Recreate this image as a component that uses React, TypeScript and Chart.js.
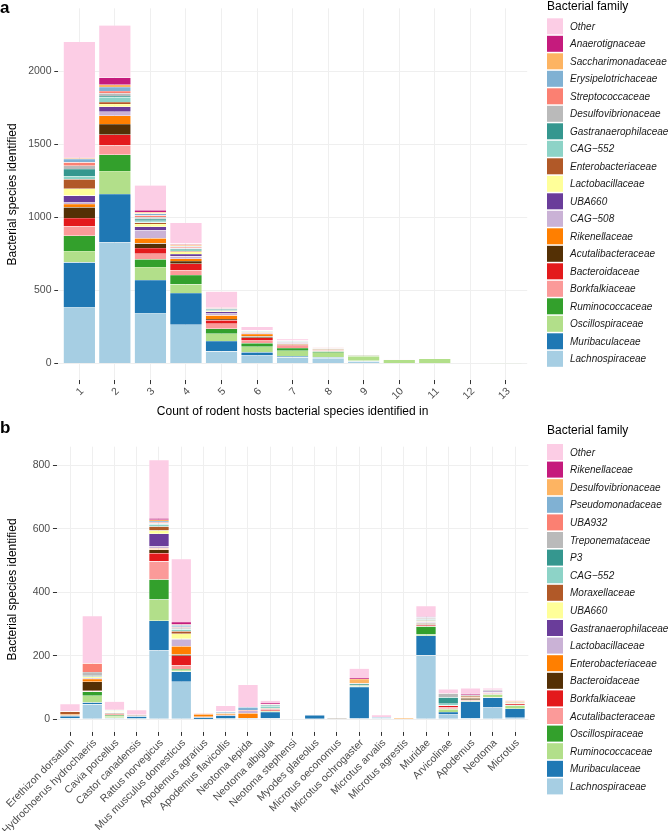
import React, { useEffect, useRef } from 'react';
import { Chart, registerables } from 'chart.js';

Chart.register(...registerables);

const FONT = '"Liberation Sans", Arial, Helvetica, sans-serif';

// ---------- shared palette (bottom of stack -> top) ----------
const palette = [
  '#A6CEE3', '#1F78B4', '#B2DF8A', '#33A02C', '#FB9A99', '#E31A1C', '#543005', '#FF7F00',
  '#CAB2D6', '#6A3D9A', '#FFFF99', '#B15928', '#8DD3C7', '#35978F', '#BABABA', '#FB8072',
  '#80B1D3', '#FDB462', '#C51B7D', '#FCCDE5',
];

// ---------- panel a ----------
const hostCountLabels = ['1', '2', '3', '4', '5', '6', '7', '8', '9', '10', '11', '12', '13'];
const familiesA = [
  'Lachnospiraceae', 'Muribaculaceae', 'Oscillospiraceae', 'Ruminococcaceae', 'Borkfalkiaceae',
  'Bacteroidaceae', 'Acutalibacteraceae', 'Rikenellaceae', 'CAG\u2212508', 'UBA660',
  'Lactobacillaceae', 'Enterobacteriaceae', 'CAG\u2212552', 'Gastranaerophilaceae',
  'Desulfovibrionaceae', 'Streptococcaceae', 'Erysipelotrichaceae', 'Saccharimonadaceae',
  'Anaerotignaceae', 'Other',
];
const aLachnospiraceae = [387, 828, 346, 266, 83, 55, 42, 36, 15, 3, 2, 0, 0];
const aMuribaculaceae = [306, 333, 226, 217, 71, 22, 9, 6, 3, 0, 0, 0, 0];
const aOscillospiraceae = [78, 158, 89, 60, 50, 38, 37, 32, 33, 24, 31, 4, 1];
const aRuminococcaceae = [104, 111, 53, 63, 34, 25, 18, 9, 3, 0, 0, 0, 0];
const aBorkfalkiaceae = [65, 65, 38, 34, 35, 21, 16, 6, 3, 2, 0, 0, 0];
const aBacteroidaceae = [57, 72, 39, 44, 23, 16, 5, 4, 1, 0, 0, 0, 0];
const aAcutalibacteraceae = [73, 74, 32, 18, 9, 9, 3, 2, 0, 0, 0, 0, 0];
const aRikenellaceae = [23, 56, 35, 16, 25, 16, 6, 4, 1, 0, 0, 0, 0];
const aCAG508 = [13, 28, 56, 16, 16, 5, 4, 3, 0, 0, 0, 0, 0];
const aUBA660 = [44, 34, 23, 16, 9, 4, 4, 3, 0, 0, 0, 0, 0];
const aLactobacillaceae = [47, 19, 19, 16, 4, 2, 3, 1, 0, 0, 0, 0, 0];
const aEnterobacteriaceae = [65, 13, 9, 5, 3, 2, 2, 1, 0, 0, 0, 0, 0];
const aCAG552 = [22, 33, 12, 8, 5, 3, 2, 1, 0, 0, 0, 0, 0];
const aGastranaerophilaceae = [48, 9, 14, 8, 4, 2, 2, 1, 0, 0, 0, 0, 0];
const aDesulfovibrionaceae = [23, 18, 12, 6, 3, 2, 2, 1, 0, 0, 0, 0, 0];
const aStreptococcaceae = [23, 16, 12, 8, 3, 2, 1, 1, 0, 0, 0, 0, 0];
const aErysipelotrichaceae = [23, 27, 12, 6, 3, 2, 1, 1, 0, 0, 0, 0, 0];
const aSaccharimonadaceae = [5, 16, 10, 8, 2, 1, 1, 0, 0, 0, 0, 0, 0];
const aAnaerotignaceae = [5, 48, 14, 6, 2, 1, 0, 0, 0, 0, 0, 0, 0];
const aOther = [793, 359, 170, 143, 110, 25, 10, 2, 3, 3, 0, 0, 0];
const yTicksA = [0, 500, 1000, 1500, 2000];

// ---------- panel b ----------
const hostLabels = [
  'Erethizon dorsatum', 'Hydrochoerus hydrochaeris', 'Cavia porcellus', 'Castor canadensis',
  'Rattus norvegicus', 'Mus musculus domesticus', 'Apodemus agrarius', 'Apodemus flavicollis',
  'Neotoma lepida', 'Neotoma albigula', 'Neotoma stephensi', 'Myodes glareolus',
  'Microtus oeconomus', 'Microtus ochrogaster', 'Microtus arvalis', 'Microtus agrestis',
  'Muridae', 'Arvicolinae', 'Apodemus', 'Neotoma', 'Microtus',
];
const familiesB = [
  'Lachnospiraceae', 'Muribaculaceae', 'Ruminococcaceae', 'Oscillospiraceae', 'Acutalibacteraceae',
  'Borkfalkiaceae', 'Bacteroidaceae', 'Enterobacteriaceae', 'Lactobacillaceae',
  'Gastranaerophilaceae', 'UBA660', 'Moraxellaceae', 'CAG\u2212552', 'P3', 'Treponemataceae',
  'UBA932', 'Pseudomonadaceae', 'Desulfovibrionaceae', 'Rikenellaceae', 'Other',
];
const bLachnospiraceae = [3, 47, 3, 2, 216, 118, 1, 2, 2, 3, 0, 0, 0, 2, 3, 0, 201, 15, 4, 37, 5];
const bMuribaculaceae = [7, 6, 2, 7, 94, 32, 5, 10, 2, 20, 0, 13, 1, 100, 2, 0, 62, 8, 51, 31, 28];
const bRuminococcaceae = [1, 21, 5, 0, 67, 5, 0, 0, 0, 2, 0, 0, 0, 2, 0, 0, 4, 9, 1, 9, 10];
const bOscillospiraceae = [0, 13, 3, 1, 63, 3, 0, 0, 0, 0, 0, 0, 0, 2, 0, 0, 25, 1, 1, 2, 2];
const bAcutalibacteraceae = [0, 2, 4, 0, 57, 12, 0, 2, 0, 2, 0, 0, 0, 0, 0, 0, 2, 4, 2, 2, 0];
const bBorkfalkiaceae = [0, 1, 1, 0, 26, 30, 2, 0, 0, 4, 0, 0, 0, 0, 0, 0, 4, 6, 2, 2, 3];
const bBacteroidaceae = [2, 28, 3, 2, 11, 4, 0, 0, 0, 2, 0, 0, 1, 0, 0, 0, 4, 1, 5, 1, 0];
const bEnterobacteriaceae = [3, 9, 1, 0, 4, 26, 8, 4, 15, 0, 0, 0, 0, 0, 0, 0, 2, 1, 3, 0, 0];
const bLactobacillaceae = [0, 2, 2, 0, 7, 22, 0, 1, 8, 0, 2, 0, 0, 0, 0, 0, 2, 0, 2, 6, 0];
const bGastranaerophilaceae = [0, 1, 0, 0, 39, 1, 0, 0, 0, 0, 0, 0, 0, 0, 0, 0, 1, 0, 0, 0, 0];
const bUBA660 = [0, 3, 3, 0, 10, 16, 0, 0, 0, 0, 0, 0, 0, 0, 0, 0, 2, 0, 0, 0, 2];
const bMoraxellaceae = [8, 1, 0, 1, 13, 8, 0, 0, 0, 2, 0, 0, 0, 2, 0, 0, 2, 0, 3, 0, 3];
const bCAG552 = [0, 2, 1, 0, 6, 6, 0, 1, 0, 6, 0, 0, 0, 0, 0, 0, 2, 4, 0, 0, 0];
const bP3 = [0, 1, 0, 1, 2, 2, 0, 0, 0, 3, 0, 0, 0, 3, 0, 0, 2, 20, 0, 0, 0];
const bTreponemataceae = [1, 12, 1, 0, 2, 4, 0, 0, 0, 2, 0, 0, 3, 2, 0, 0, 3, 12, 3, 3, 2];
const bUBA932 = [1, 27, 1, 0, 3, 2, 2, 0, 2, 2, 0, 1, 0, 0, 0, 0, 1, 0, 0, 0, 0];
const bPseudomonadaceae = [0, 1, 0, 0, 4, 5, 0, 4, 9, 0, 0, 0, 0, 0, 2, 0, 1, 0, 0, 0, 0];
const bDesulfovibrionaceae = [0, 0, 0, 0, 4, 2, 0, 0, 0, 0, 0, 0, 0, 14, 0, 5, 1, 0, 0, 0, 3];
const bRikenellaceae = [0, 0, 0, 0, 5, 8, 0, 0, 0, 3, 0, 0, 0, 3, 0, 0, 3, 0, 4, 0, 0];
const bOther = [22, 148, 26, 15, 183, 199, 2, 19, 71, 8, 1, 1, 0, 30, 7, 0, 33, 14, 17, 5, 3];
const yTicksB = [0, 200, 400, 600, 800];

const seriesA = [
  aLachnospiraceae, aMuribaculaceae, aOscillospiraceae, aRuminococcaceae, aBorkfalkiaceae,
  aBacteroidaceae, aAcutalibacteraceae, aRikenellaceae, aCAG508, aUBA660, aLactobacillaceae,
  aEnterobacteriaceae, aCAG552, aGastranaerophilaceae, aDesulfovibrionaceae, aStreptococcaceae,
  aErysipelotrichaceae, aSaccharimonadaceae, aAnaerotignaceae, aOther,
];
const seriesB = [
  bLachnospiraceae, bMuribaculaceae, bRuminococcaceae, bOscillospiraceae, bAcutalibacteraceae,
  bBorkfalkiaceae, bBacteroidaceae, bEnterobacteriaceae, bLactobacillaceae, bGastranaerophilaceae,
  bUBA660, bMoraxellaceae, bCAG552, bP3, bTreponemataceae, bUBA932, bPseudomonadaceae,
  bDesulfovibrionaceae, bRikenellaceae, bOther,
];

const GRID = '#EFEFEF';
const TICKC = '#4D4D4D';

// legend + panel letter drawn through a Chart.js plugin
const familyLegend = {
  id: 'familyLegend',
  afterDraw(chart: any, _args: any, opts: any) {
    const ctx = chart.ctx;
    ctx.save();
    ctx.textAlign = 'left';
    ctx.textBaseline = 'alphabetic';
    ctx.fillStyle = '#000000';
    ctx.font = `bold 17px ${FONT}`;
    ctx.fillText(opts.letter, 0, opts.letterY);
    ctx.fillStyle = '#000000';
    ctx.font = `12px ${FONT}`;
    ctx.fillText(opts.title, opts.x, opts.titleY);
    ctx.font = `italic 10px ${FONT}`;
    const ds = chart.data.datasets.slice().reverse();
    ds.forEach((d: any, i: number) => {
      const top = opts.top + i * opts.step;
      ctx.fillStyle = d.backgroundColor;
      ctx.fillRect(opts.x, top, 16, 16);
      ctx.fillStyle = '#1A1A1A';
      ctx.textBaseline = 'middle';
      ctx.fillText(d.label, opts.x + 23, top + 8.8);
    });
    ctx.restore();
  },
};

type Spec = {
  labels: string[];
  families: string[];
  series: number[][];
  yMin: number;
  yMax: number;
  yTicks: number[];
  padTop: number;
  padRight: number;
  yWidth: number;
  xHeight: number;
  xTitle: string | null;
  legend: any;
};

function buildChart(canvas: HTMLCanvasElement, spec: Spec) {
  const n = spec.labels.length;
  return new Chart(canvas, {
    type: 'bar',
    data: {
      datasets: spec.families.map((name, k) => ({
        label: name,
        data: spec.series[k].map((v, i) => ({ x: i, y: v })),
        backgroundColor: palette[k],
        borderColor: '#FFFFFF',
        borderWidth: 0.35,
        barPercentage: 0.9,
        categoryPercentage: 1,
      })),
    },
    options: {
      responsive: false,
      animation: false,
      events: [],
      layout: { padding: { left: 0, top: spec.padTop, right: spec.padRight, bottom: 0 } },
      plugins: {
        legend: { display: false },
        tooltip: { enabled: false },
        familyLegend: spec.legend,
      } as any,
      scales: {
        x: {
          type: 'linear',
          min: -0.6,
          max: n - 0.4,
          offset: false,
          stacked: true,
          afterBuildTicks: (s: any) => {
            s.ticks = spec.labels.map((_, i) => ({ value: i }));
          },
          afterFit: (s: any) => {
            s.height = spec.xHeight;
            s.paddingLeft = 0;
            s.paddingRight = 0;
          },
          grid: { offset: false, color: GRID, lineWidth: 1, tickColor: '#333333', tickLength: 3.7, tickWidth: 1 },
          border: { display: false },
          ticks: {
            autoSkip: false,
            minRotation: 45,
            maxRotation: 45,
            padding: 1,
            labelOffset: 2.7,
            color: TICKC,
            font: { family: FONT, size: 10.5 },
            callback: (v: any) => spec.labels[Math.round(Number(v))] ?? '',
          },
          title: spec.xTitle
            ? { display: true, text: spec.xTitle, color: '#000000', font: { family: FONT, size: 12 }, padding: { top: 0, bottom: 1.1 } }
            : { display: false },
        },
        y: {
          type: 'linear',
          min: spec.yMin,
          max: spec.yMax,
          stacked: true,
          afterBuildTicks: (s: any) => {
            s.ticks = spec.yTicks.map((v) => ({ value: v }));
          },
          afterFit: (s: any) => {
            s.width = spec.yWidth;
            s.paddingTop = 0;
            s.paddingBottom = 0;
          },
          grid: { color: GRID, lineWidth: 1, tickColor: '#333333', tickLength: 3.7, tickWidth: 1 },
          border: { display: false },
          ticks: {
            padding: 2.8,
            color: TICKC,
            font: { family: FONT, size: 10.5 },
            callback: (v: any) => String(v),
          },
          title: {
            display: true,
            text: 'Bacterial species identified',
            color: '#000000',
            font: { family: FONT, size: 12 },
            padding: { top: 5.6, bottom: 0 },
          },
        },
      } as any,
    },
    plugins: [familyLegend as any],
  } as any);
}

const specA: Spec = {
  labels: hostCountLabels,
  families: familiesA,
  series: seriesA,
  yMin: -115.85,
  yMax: 2432.85,
  yTicks: yTicksA,
  padTop: 8.3,
  padRight: 144.8,
  yWidth: 58,
  xHeight: 39.6,
  xTitle: 'Count of rodent hosts bacterial species identified in',
  legend: { letter: 'a', letterY: 13.3, title: 'Bacterial family', x: 547, titleY: 9.8, top: 18.3, step: 17.5 },
};

const specB: Spec = {
  labels: hostLabels,
  families: familiesB,
  series: seriesB,
  yMin: -40.85,
  yMax: 857.85,
  yTicks: yTicksB,
  padTop: 26.7,
  padRight: 143.65,
  yWidth: 56.65,
  xHeight: 98.8,
  xTitle: null,
  legend: { letter: 'b', letterY: 13.3, title: 'Bacterial family', x: 547, titleY: 13.6, top: 24, step: 17.6 },
};

function Panel({ spec, top, height }: { spec: Spec; top: number; height: number }) {
  const ref = useRef<HTMLCanvasElement | null>(null);
  useEffect(() => {
    if (!ref.current) return;
    const chart = buildChart(ref.current, spec);
    return () => chart.destroy();
  }, [spec]);
  return (
    <canvas
      ref={ref}
      width={672}
      height={height}
      style={{ position: 'absolute', left: 0, top, width: 672, height, display: 'block' }}
    />
  );
}

export default function App() {
  return (
    <div style={{ position: 'absolute', left: 0, top: 0, width: 672, height: 831, background: '#FFFFFF', overflow: 'hidden' }}>
      <Panel spec={specA} top={0} height={420} />
      <Panel spec={specB} top={420} height={411} />
    </div>
  );
}
